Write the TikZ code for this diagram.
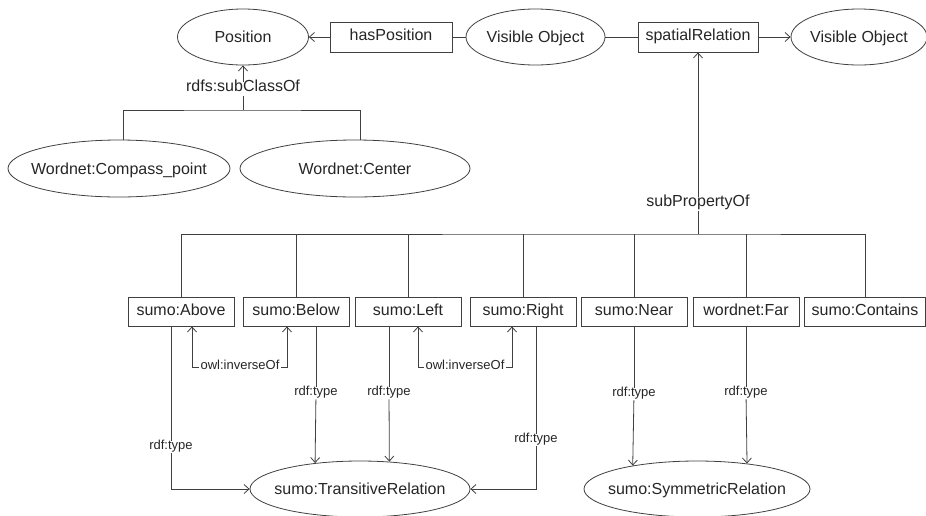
\documentclass[tikz,border=0pt]{standalone}
\usepackage{fontspec}
\setmainfont{Liberation Sans}
\usetikzlibrary{arrows.meta,shapes.geometric}
\newcommand{\ztxt}[1]{\raisebox{-0.36em}[0pt][0pt]{\makebox[0pt]{#1}}}
\tikzset{
  ln/.style={draw=black!75, line width=0.8pt},
  arr/.style={ln, -{Straight Barb[length=5pt,width=9pt]}},
  ell/.style={ellipse, draw=black!75, line width=0.8pt, inner sep=0pt, text=black!85,
    font=\fontsize{16}{19}\selectfont},
  bx/.style={rectangle, draw=black!75, line width=0.8pt, inner sep=0pt, text=black!85,
    minimum width=106pt, minimum height=29pt, text height=0.72em, text depth=0pt,
    font=\fontsize{16}{19}\selectfont},
  biglbl/.style={inner sep=2pt, text=black!85, text height=0.72em, text depth=0.22em,
    font=\fontsize{16}{19}\selectfont},
  smlbl/.style={inner sep=1.5pt, text=black!85, text height=0.72em, text depth=0.22em,
    font=\fontsize{13}{15}\selectfont},
}
\begin{document}
\begin{tikzpicture}[x=1pt,y=-1pt]
\path[use as bounding box, fill=white] (0,0) rectangle (926,515);

% top row
\node[ell, minimum width=131pt, minimum height=56pt] (pos) at (243,37) {\ztxt{Position}};
\node[bx, minimum width=122pt, minimum height=30pt] (hasp) at (391,37) {hasPosition};
\node[ell, minimum width=139pt, minimum height=56pt] (vo1) at (535.5,37) {\ztxt{Visible Object}};
\node[bx, minimum width=120pt, minimum height=30pt] (spr) at (698,37) {spatialRelation};
\node[ell, minimum width=136pt, minimum height=56pt] (vo2) at (859,37) {\ztxt{Visible Object}};

\draw[ln] (vo1) -- (hasp);
\draw[arr] (hasp) -- (pos);
\draw[ln] (vo1) -- (spr);
\draw[arr] (spr) -- (vo2);

% subclass tree
\node[biglbl] (sco) at (243,89) {rdfs:subClassOf};
\node[ell, minimum width=222pt, minimum height=57pt] (cp) at (119,168.5) {\ztxt{Wordnet:Compass\_point}};
\node[ell, minimum width=230pt, minimum height=57pt] (ce) at (355,168.5) {\ztxt{Wordnet:Center}};
\coordinate (bus1) at (243,110);
\draw[arr] (sco) -- (pos);
\draw[ln] (sco) -- (bus1);
\draw[ln] ([xshift=4pt]cp.north) |- (bus1) -| ([xshift=5pt]ce.north);

% subproperty tree
\node[biglbl] (spo) at (698,204) {subPropertyOf};
\coordinate (bus2) at (698,234);
\draw[arr] (spo) -- (spr);
\draw[ln] (spo) -- (bus2);

\node[bx] (sAbove) at (181,311.5) {sumo:Above};
\node[bx] (sBelow) at (296,311.5) {sumo:Below};
\node[bx] (sLeft) at (408,311.5) {sumo:Left};
\node[bx] (sRight) at (523,311.5) {sumo:Right};
\node[bx] (sNear) at (634,311.5) {sumo:Near};
\node[bx] (wFar) at (746,311.5) {wordnet:Far};
\node[bx, minimum width=121pt] (sContains) at (865,311.5) {sumo:Contains};

\draw[ln] (sAbove.north) |- (bus2) -| (sContains.north);
\foreach \n in {sBelow,sLeft,sRight,sNear,wFar}
  \draw[ln] (\n.north) -- (\n.north |- bus2);

% bottom ellipses
\node[ell, minimum width=220pt, minimum height=56pt] (trans) at (360,489) {\ztxt{sumo:TransitiveRelation}};
\node[ell, minimum width=226pt, minimum height=56pt] (sym) at (697,489) {\ztxt{sumo:SymmetricRelation}};

% inverseOf
\node[smlbl] (inv1) at (240,367) {owl:inverseOf};
\draw[arr] (inv1.west) -| ([xshift=11pt]sAbove.south);
\draw[arr] (inv1.east) -| ([xshift=-9pt]sBelow.south);
\node[smlbl] (inv2) at (465,367) {owl:inverseOf};
\draw[arr] (inv2.west) -| ([xshift=10pt]sLeft.south);
\draw[arr] (inv2.east) -| ([xshift=-11pt]sRight.south);

% rdf:type
\node[smlbl] (t1) at (171,447) {rdf:type};
\draw[ln] ([xshift=-10pt]sAbove.south) -- (t1);
\draw[arr] (t1) |- (trans.west);

\node[smlbl] (t2) at (316,393) {rdf:type};
\draw[ln] ([xshift=20pt]sBelow.south) -- (t2);
\draw[arr] (t2) -- (trans.150);

\node[smlbl] (t3) at (389,393) {rdf:type};
\draw[ln] ([xshift=-19pt]sLeft.south) -- (t3);
\draw[arr] (t3) -- (trans.43);

\node[smlbl] (t4) at (536,440) {rdf:type};
\draw[ln] ([xshift=13pt]sRight.south) -- (t4);
\draw[arr] (t4) |- (trans.east);

\node[smlbl] (t5) at (634,394) {rdf:type};
\draw[ln] (sNear.south) -- (t5);
\draw[arr] (t5) -- (sym.160);

\node[smlbl] (t6) at (746,393) {rdf:type};
\draw[ln] (wFar.south) -- (t6);
\draw[arr] (t6) -- (sym.27);
\end{tikzpicture}
\end{document}
